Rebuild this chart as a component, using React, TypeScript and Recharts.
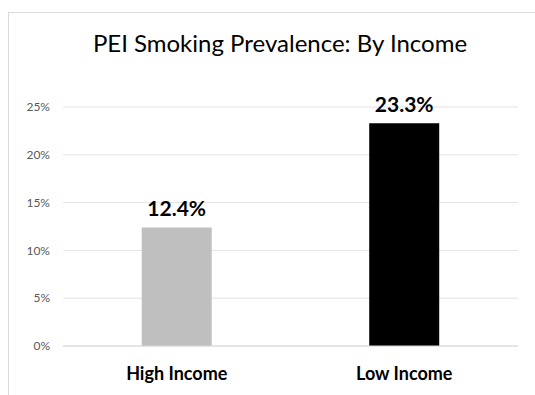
import React from "react";
import { BarChart, Bar, XAxis, YAxis, CartesianGrid, LabelList, Cell } from "recharts";

// Income groups and their smoking prevalence (%)
const categories = ["High Income", "Low Income"];
const prevalence = [12.4, 23.3];
const barColors = ["#bfbfbf", "#000000"];
const yTicks = [0, 5, 10, 15, 20, 25];

const data = categories.map((name, i) => ({ name, value: prevalence[i] }));

const FONT = "Lato, 'Open Sans', sans-serif";

export default function App() {
  return (
    <div
      style={{
        position: "absolute",
        left: 0,
        top: 0,
        width: 535,
        height: 395,
        overflow: "hidden",
        background: "#ffffff",
        fontFamily: FONT,
      }}
    >
      <div
        style={{
          position: "absolute",
          left: 8,
          top: 12,
          width: 700,
          height: 600,
          border: "1px solid #d9d9d9",
        }}
      />
      <div
        style={{
          position: "absolute",
          left: 0,
          top: 29,
          width: 560,
          textAlign: "center",
          fontSize: 24,
          color: "#000000",
          lineHeight: "28px",
        }}
      >
        PEI Smoking Prevalence: By Income
      </div>
      <div style={{ position: "absolute", left: 0, top: 0 }}>
        <BarChart
          width={535}
          height={395}
          data={data}
          margin={{ top: 107, right: 17, bottom: 19, left: 0 }}
          barCategoryGap="34.6%"
        >
          <CartesianGrid vertical={false} stroke="#e3e3e3" />
          <XAxis
            dataKey="name"
            axisLine={{ stroke: "#d9d9d9" }}
            tickLine={false}
            tickMargin={15}
            height={30}
            tick={{ fill: "#000000", fontSize: 18, fontWeight: 700, fontFamily: FONT }}
          />
          <YAxis
            domain={[0, 25]}
            ticks={yTicks}
            width={63}
            axisLine={false}
            tickLine={false}
            tickMargin={7}
            tickFormatter={(v: number) => `${v}%`}
            tick={{ fill: "#595959", fontSize: 12, fontFamily: FONT }}
          />
          <Bar dataKey="value" isAnimationActive={false}>
            {data.map((d, i) => (
              <Cell key={d.name} fill={barColors[i]} />
            ))}
            <LabelList
              dataKey="value"
              position="top"
              offset={11}
              formatter={(v: number) => `${v.toFixed(1)}%`}
              style={{ fill: "#000000", fontSize: 21, fontWeight: 700, fontFamily: FONT }}
            />
          </Bar>
        </BarChart>
      </div>
    </div>
  );
}
